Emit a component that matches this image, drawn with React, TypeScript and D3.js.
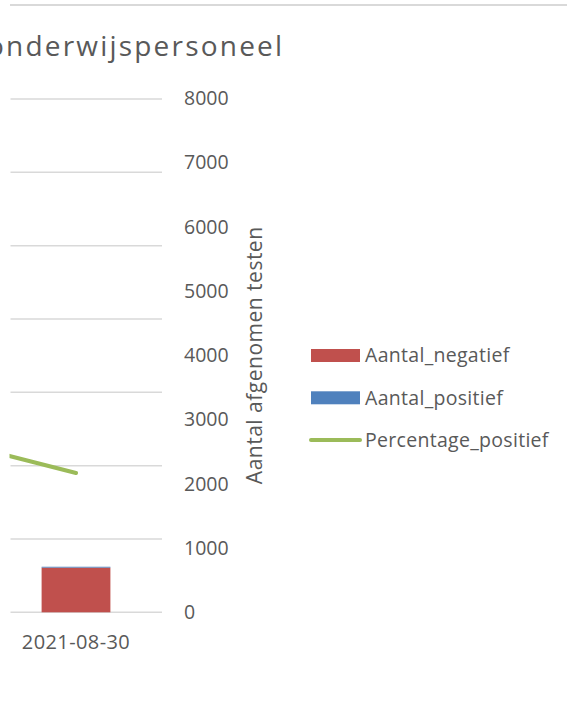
import React from "react";
import * as d3 from "d3";

const categories = ["2021-08-23", "2021-08-30"];
const aantalNegatief = [3300, 695];
const aantalPositief = [85, 14];
const percentagePositief = [0.025, 0.019];
const countTicks = [0, 1000, 2000, 3000, 4000, 5000, 6000, 7000, 8000];
const pctTicks = [0, 0.01, 0.02, 0.03, 0.04, 0.05, 0.06, 0.07];
const legendItems = [
  { name: "Aantal_negatief", color: "#c0504d", type: "bar" },
  { name: "Aantal_positief", color: "#4f81bd", type: "bar" },
  { name: "Percentage_positief", color: "#9bbb59", type: "line" },
];

const W = 567;
const H = 721;
const FONT = "'Open Sans', sans-serif";
const TXT = "#595959";
const GRID = "#d9d9d9";

export default function App() {
  const plotLeft = 10.5;
  const plotRight = 162;
  const y0 = 612.3;

  const x = d3
    .scaleBand<string>()
    .domain(categories)
    .range([-182, plotRight])
    .paddingInner(0.6)
    .paddingOuter(0.3);
  const yCount = d3.scaleLinear().domain([0, 8000]).range([y0, 98.3]);
  const yPct = d3.scaleLinear().domain([0, 0.07]).range([y0, 99]);

  const line = d3
    .line<number>()
    .x((_, i) => (x(categories[i]) as number) + x.bandwidth() / 2)
    .y((d) => yPct(d));

  return (
    <svg
      width={W}
      height={H}
      style={{ position: "absolute", left: 0, top: 0, background: "#fff" }}
      fontFamily={FONT}
    >
      <defs>
        <clipPath id="plotclip">
          <rect x={plotLeft - 1} y={80} width={plotRight - plotLeft + 20} height={560} />
        </clipPath>
      </defs>
      <rect x={0} y={0} width={W} height={H} fill="#fff" />
      <line x1={10} x2={W} y1={5} y2={5} stroke={GRID} strokeWidth={2} />
      <text x={-13} y={56} fontSize={28} letterSpacing={2.2} fill={TXT}>
        onderwijspersoneel
      </text>

      {pctTicks.map((t) => (
        <line
          key={t}
          x1={plotLeft}
          x2={plotRight}
          y1={yPct(t)}
          y2={yPct(t)}
          stroke={GRID}
          strokeWidth={1.5}
        />
      ))}

      <g clipPath="url(#plotclip)">
        {categories.map((c, i) => {
          const bx = x(c) as number;
          const neg = aantalNegatief[i];
          const pos = aantalPositief[i];
          return (
            <g key={c}>
              <rect
                x={bx}
                width={x.bandwidth()}
                y={yCount(neg)}
                height={yCount(0) - yCount(neg)}
                fill="#c0504d"
              />
              <rect
                x={bx}
                width={x.bandwidth()}
                y={yCount(neg + pos)}
                height={yCount(neg) - yCount(neg + pos)}
                fill="#4f81bd"
              />
            </g>
          );
        })}
        <path
          d={line(percentagePositief) || ""}
          fill="none"
          stroke="#9bbb59"
          strokeWidth={4}
          strokeLinecap="round"
          strokeLinejoin="round"
        />
      </g>

      {countTicks.map((t) => (
        <text
          key={t}
          x={184}
          y={yCount(t)}
          dy="0.35em"
          fontSize={19.5}
          fill={TXT}
        >
          {t}
        </text>
      ))}

      <text
        transform={`translate(262, ${(yCount(0) + yCount(8000)) / 2}) rotate(-90)`}
        textAnchor="middle"
        fontSize={21}
        letterSpacing={0.5}
        fill={TXT}
      >
        Aantal afgenomen testen
      </text>

      {categories.map((c) => {
        const cx = (x(c) as number) + x.bandwidth() / 2;
        if (cx < 0) return null;
        return (
          <text
            key={c}
            x={cx}
            y={649}
            textAnchor="middle"
            fontSize={20}
            letterSpacing={0.4}
            fill={TXT}
          >
            {c}
          </text>
        );
      })}

      {legendItems.map((it, i) => {
        const cy = 355.5 + i * 42.3;
        return (
          <g key={it.name}>
            {it.type === "bar" ? (
              <rect x={311} y={cy - 6.5} width={49} height={13} fill={it.color} />
            ) : (
              <line
                x1={311}
                x2={360}
                y1={cy}
                y2={cy}
                stroke={it.color}
                strokeWidth={4}
                strokeLinecap="round"
              />
            )}
            <text
              x={365}
              y={cy}
              dy="0.35em"
              fontSize={19.5}
              letterSpacing={0.3}
              fill={TXT}
            >
              {it.name}
            </text>
          </g>
        );
      })}
    </svg>
  );
}
